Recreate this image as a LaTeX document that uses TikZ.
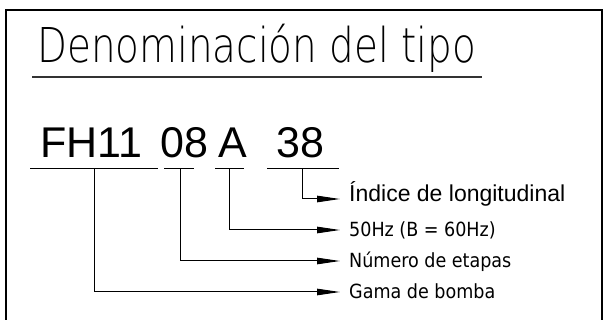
\documentclass[tikz,border=0pt]{standalone}
\usepackage{fontspec}
\newfontfamily\titlefont{DejaVu Sans ExtraLight}[FakeStretch=0.81]
\newfontfamily\isofont{DejaVu Sans Condensed}
\newfontfamily\arialfont{Liberation Sans}
\usetikzlibrary{arrows.meta}
\tikzset{
  code/.style={anchor=base west, inner sep=0pt, font=\arialfont\fontsize{43}{43}\selectfont},
  isolabel/.style={anchor=west, inner xsep=9pt, inner ysep=0pt, text height=14pt, text depth=0pt,
    font=\isofont\fontsize{19.5}{19.5}\selectfont},
  codeline/.style={line width=1pt},
  leader/.style={line width=1pt, -{Triangle[length=23pt,width=6.5pt]}}
}
\begin{document}
\begin{tikzpicture}[x=1pt,y=-1pt]
\def\codey{158}
\def\ruley{169}
\useasboundingbox (0,0) rectangle (608,320);

\draw[line width=2pt] (6,320) -- (6,10) -- (602,10) -- (602,320);
\node[anchor=base west, inner sep=0pt, font=\titlefont\fontsize{48}{48}\selectfont] (title) at (37,63) {Denominación del tipo};
\draw[line width=1.3pt, black!80] (32,77) -- (482,77);

\node[code] (fh) at (40,\codey) {FH11};
\node[code] (st) at (160,\codey) {08};
\node[code] (hz) at (218,\codey) {A};
\node[code] (ln) at (276,\codey) {38};

\draw[codeline] (30,\ruley) -- (158,\ruley);
\draw[codeline] (164,\ruley) -- (194,\ruley);
\draw[codeline] (215,\ruley) -- (244,\ruley);
\draw[codeline] (267,\ruley) -- (339,\ruley);
\coordinate (fhdrop) at (94,\ruley);
\coordinate (stdrop) at (180,\ruley);
\coordinate (hzdrop) at (229,\ruley);
\coordinate (lndrop) at (302,\ruley);

\node[isolabel, font=\arialfont\fontsize{23}{23}\selectfont, text height=6pt] (indice) at (340,199) {Índice de longitudinal};
\node[isolabel] (freq) at (340,230) {50Hz (B = 60Hz)};
\node[isolabel] (etapas) at (340,261) {Número de etapas};
\node[isolabel] (gama) at (340,292) {Gama de bomba};

\draw[leader] (lndrop) |- (indice);
\draw[leader] (hzdrop) |- (freq);
\draw[leader] (stdrop) |- (etapas);
\draw[leader] (fhdrop) |- (gama);
\end{tikzpicture}
\end{document}
